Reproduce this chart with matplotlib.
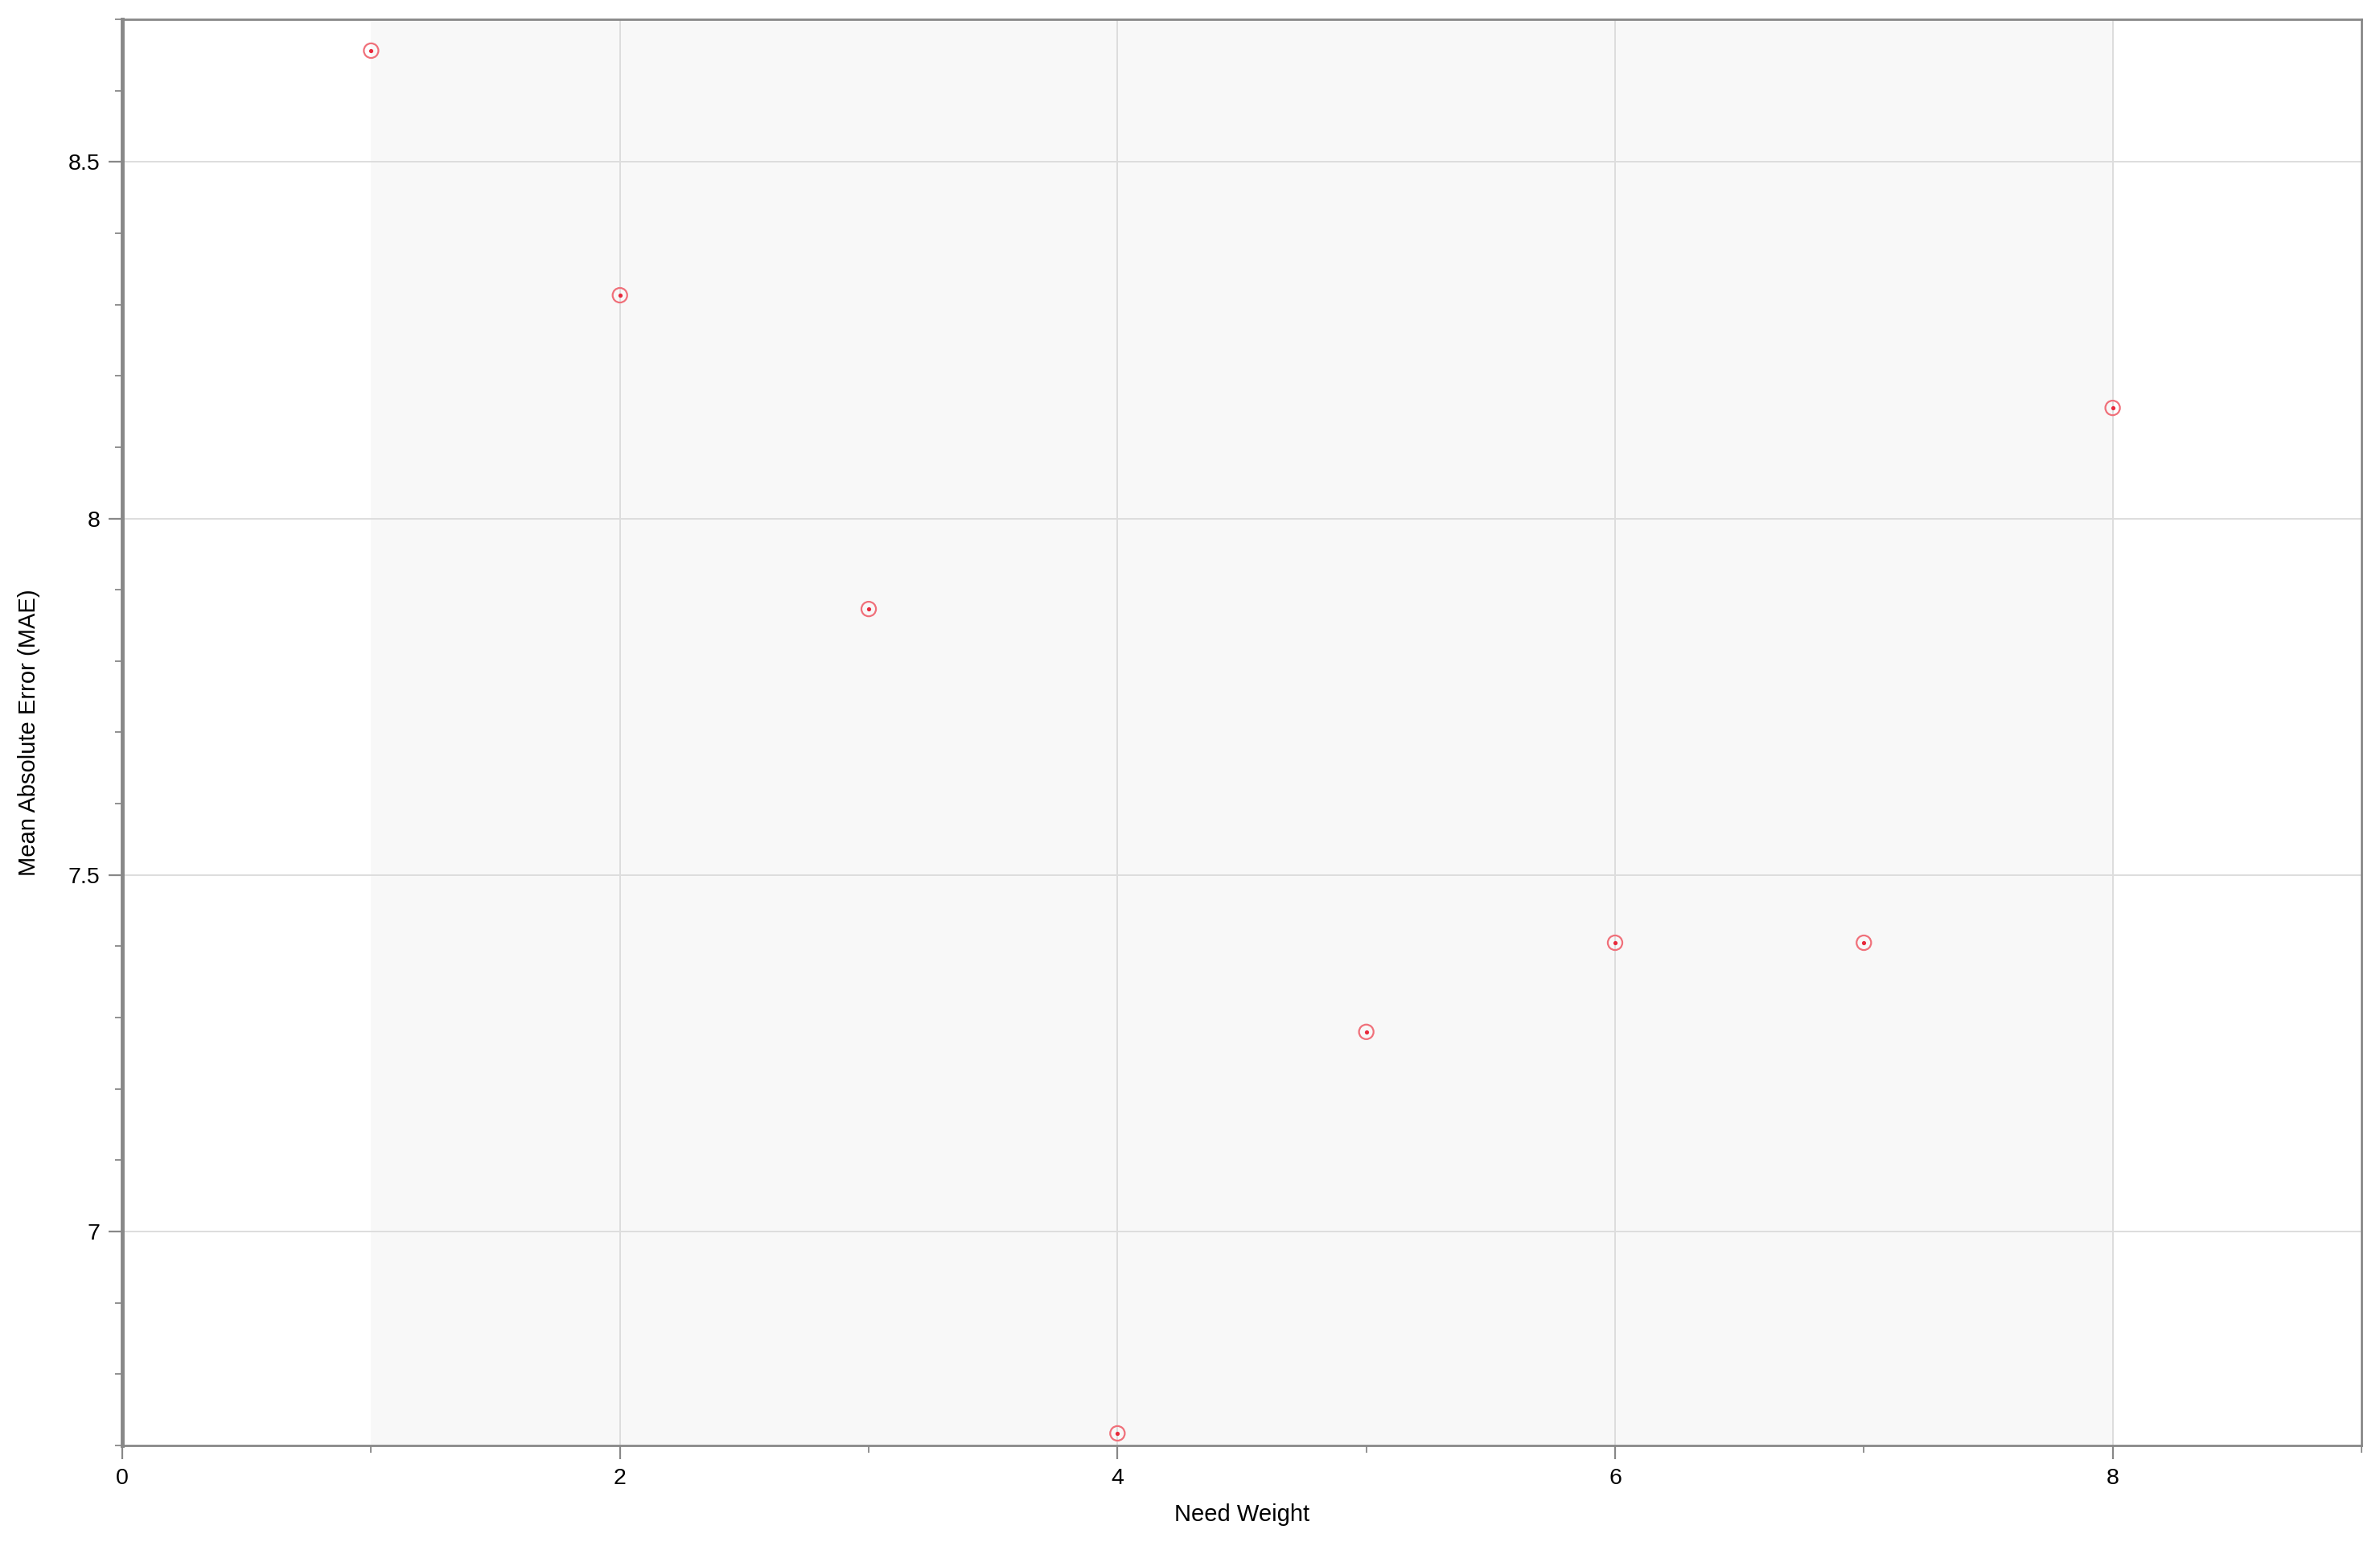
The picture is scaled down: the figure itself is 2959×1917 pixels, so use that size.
import matplotlib
matplotlib.use("Agg")
import matplotlib.pyplot as plt
from matplotlib.ticker import MultipleLocator, FuncFormatter

# data
need_weight = [1, 2, 3, 4, 5, 6, 7, 8]
mae = [8.656, 8.313, 7.873, 6.717, 7.280, 7.405, 7.405, 8.155]

plt.rcParams['font.family'] = ['Liberation Sans', 'DejaVu Sans']

fig = plt.figure(figsize=(29.59, 19.17), dpi=100)
ax = fig.add_axes([0.0514, 0.0626, 0.9408, 0.9249])

# shaded band over the data range
ax.axvspan(min(need_weight), max(need_weight), color='#f8f8f8', zorder=0, lw=0)

# points: light red ring with a red dot
ax.scatter(need_weight, mae, s=170, facecolors='none', edgecolors='#f0707a',
           linewidths=1.6, zorder=3)
ax.scatter(need_weight, mae, s=14, color='#e8283a', lw=0, zorder=4)

ax.set_xlim(0, 9)
ax.set_ylim(6.7, 8.7)
ax.xaxis.set_major_locator(MultipleLocator(2))
ax.xaxis.set_minor_locator(MultipleLocator(1))
ax.yaxis.set_major_locator(MultipleLocator(0.5))
ax.yaxis.set_minor_locator(MultipleLocator(0.1))
ax.yaxis.set_major_formatter(FuncFormatter(lambda v, p: ('%g' % v)))

ax.grid(True, which='major', color='#dddddd', lw=1.4, zorder=1)
ax.set_axisbelow(True)

for side in ['top', 'right', 'bottom']:
    ax.spines[side].set_color('#888888')
    ax.spines[side].set_linewidth(2)
ax.spines['left'].set_color('#888888')
ax.spines['left'].set_linewidth(3.5)

ax.tick_params(which='major', length=12, width=1.6, color='#888888',
               labelsize=20.5, pad=8)
ax.tick_params(which='minor', length=6.5, width=1.3, color='#888888')

ax.set_xlabel("Need Weight", fontsize=21, labelpad=13)
ax.set_ylabel("Mean Absolute Error (MAE)", fontsize=21, labelpad=25)

fig.savefig("out.png", dpi=100)
